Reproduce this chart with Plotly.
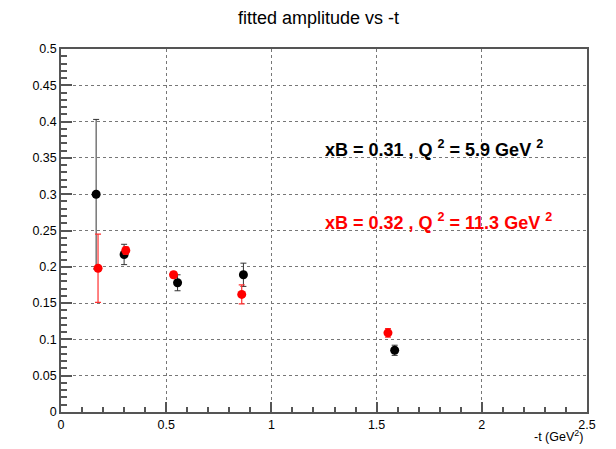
import plotly.graph_objects as go

# Data
t_black = [0.167, 0.300, 0.554, 0.867, 1.586]
amp_black = [0.300, 0.217, 0.178, 0.189, 0.085]
err_black = [0.103, 0.014, 0.011, 0.016, 0.007]

t_red = [0.176, 0.308, 0.535, 0.859, 1.554]
amp_red = [0.198, 0.2225, 0.189, 0.162, 0.109]
err_red = [0.047, 0.005, 0.004, 0.013, 0.006]

label_black = "xB = 0.31 , Q <sup>2</sup> = 5.9 GeV <sup>2</sup>"
label_red = "xB = 0.32 , Q <sup>2</sup> = 11.3 GeV <sup>2</sup>"

FONT = "Liberation Sans, Arial, sans-serif"

fig = go.Figure()
fig.add_trace(go.Scatter(
    x=t_black, y=amp_black, mode="markers",
    marker=dict(color="black", size=9),
    error_y=dict(type="data", array=err_black, color="#333333", thickness=1, width=3),
    showlegend=False))
fig.add_trace(go.Scatter(
    x=t_red, y=amp_red, mode="markers",
    marker=dict(color="#ff0000", size=9),
    error_y=dict(type="data", array=err_red, color="#ff3030", thickness=1.2, width=3),
    showlegend=False))

axis_common = dict(
    showline=True, linecolor="#555555", linewidth=1.5, mirror=True,
    ticks="inside", tickcolor="#555555", tickwidth=1.5,
    showgrid=True, gridcolor="#777777", griddash="dot", gridwidth=1,
    zeroline=False,
    tickfont=dict(family=FONT, size=12.5, color="black"),
)

fig.update_layout(
    width=616, height=449,
    margin=dict(l=61, r=29, t=49, b=37),
    paper_bgcolor="white", plot_bgcolor="white",
    title=dict(text="fitted amplitude vs -t", x=318.5/616, xanchor="center",
               y=1 - 18/449, yanchor="middle",
               font=dict(family=FONT, size=18, color="black")),
    xaxis=dict(range=[0, 2.5], tickvals=[0, 0.5, 1, 1.5, 2, 2.5],
               ticktext=["0", "0.5", "1", "1.5", "2", "2.5"], ticklen=10,
               minor=dict(dtick=0.1, ticklen=5, ticks="inside", tickcolor="#555555", showgrid=False),
               **axis_common),
    yaxis=dict(range=[0, 0.5], tickvals=[0, 0.05, 0.1, 0.15, 0.2, 0.25, 0.3, 0.35, 0.4, 0.45, 0.5],
               ticktext=["0", "0.05", "0.1", "0.15", "0.2", "0.25", "0.3", "0.35", "0.4", "0.45", "0.5"],
               ticklen=11,
               minor=dict(dtick=0.01, ticklen=6, ticks="inside", tickcolor="#555555", showgrid=False),
               **axis_common),
)

fig.add_annotation(x=1.245, y=0.3636, xref="x", yref="y", text=label_black,
                   showarrow=False, xanchor="left", yanchor="middle",
                   font=dict(family=FONT, size=18, color="black", weight="bold"))
fig.add_annotation(x=1.245, y=0.262, xref="x", yref="y", text=label_red,
                   showarrow=False, xanchor="left", yanchor="middle",
                   font=dict(family=FONT, size=18, color="#ff0000", weight="bold"))
fig.add_annotation(x=(585 - 61) / 526, y=(412 - 436) / 363, xref="paper", yref="paper",
                   text="-t (GeV<sup>2</sup>)", showarrow=False,
                   xanchor="right", yanchor="middle",
                   font=dict(family=FONT, size=12.5, color="black"))

fig.write_html("out.html")
